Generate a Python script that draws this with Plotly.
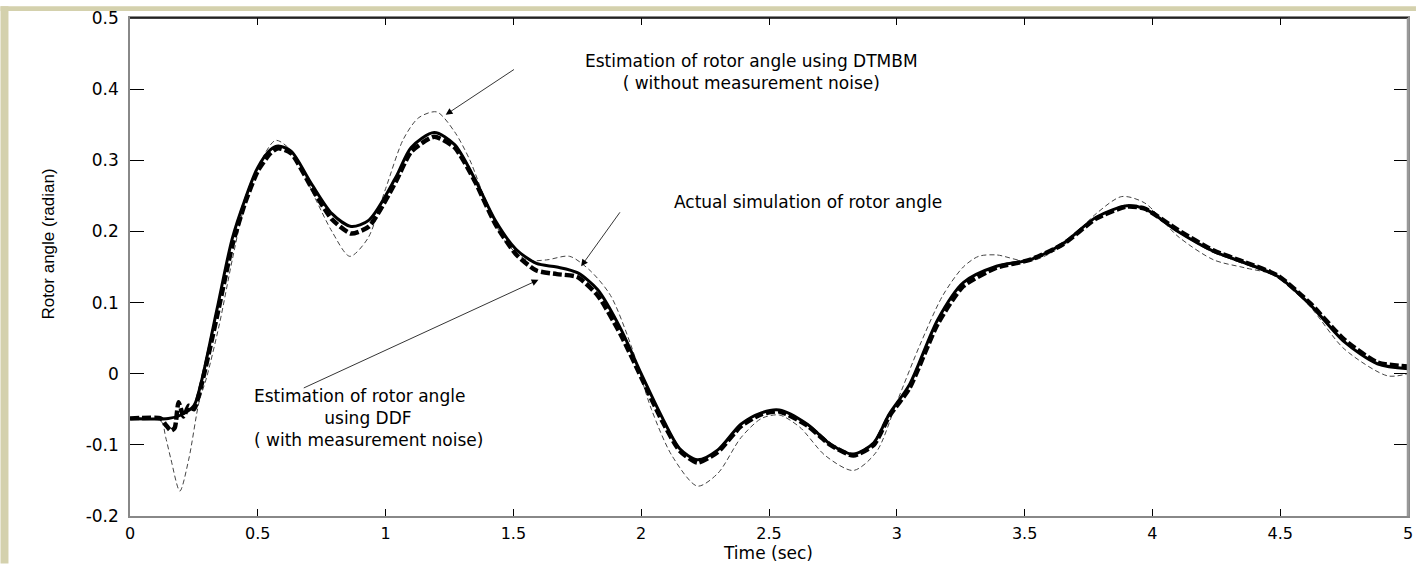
import plotly.graph_objects as go

# ---- data -------------------------------------------------------------
# actual simulated rotor angle (rad) vs time (s)
t_actual = [0, 0.15, 0.2, 0.25, 0.28, 0.34, 0.40, 0.45, 0.50, 0.55, 0.58, 0.63,
            0.71, 0.79, 0.865, 0.935, 1.04, 1.10, 1.19, 1.27, 1.35, 1.43, 1.51,
            1.59, 1.67, 1.75, 1.83, 1.92, 2.0, 2.08, 2.15, 2.22, 2.30, 2.39,
            2.47, 2.54, 2.65, 2.74, 2.83, 2.91, 2.97, 3.05, 3.16, 3.26, 3.39,
            3.52, 3.65, 3.78, 3.90, 3.97, 4.10, 4.24, 4.36, 4.49, 4.62, 4.75,
            4.88, 5.0]
v_actual = [-0.063, -0.063, -0.058, -0.045, -0.01, 0.09, 0.19, 0.245, 0.29,
            0.315, 0.32, 0.313, 0.267, 0.225, 0.207, 0.216, 0.276, 0.318, 0.339,
            0.322, 0.273, 0.215, 0.175, 0.155, 0.15, 0.142, 0.118, 0.063, 0.0,
            -0.06, -0.105, -0.121, -0.107, -0.071, -0.055, -0.051, -0.071,
            -0.099, -0.113, -0.097, -0.057, -0.015, 0.076, 0.128, 0.151, 0.16,
            0.183, 0.22, 0.236, 0.232, 0.20, 0.172, 0.156, 0.137, 0.096, 0.045,
            0.014, 0.007]

# DDF estimate (with measurement noise)
t_ddf = [0, 0.12, 0.14, 0.16, 0.175, 0.19, 0.21, 0.23, 0.25, 0.28, 0.34, 0.40,
         0.45, 0.50, 0.55, 0.58, 0.63, 0.71, 0.79, 0.865, 0.935, 1.04, 1.10,
         1.19, 1.27, 1.35, 1.43, 1.51, 1.59, 1.67, 1.75, 1.83, 1.92, 2.0, 2.08,
         2.15, 2.22, 2.30, 2.39, 2.47, 2.54, 2.65, 2.74, 2.83, 2.91, 2.97, 3.05,
         3.16, 3.26, 3.39, 3.52, 3.65, 3.78, 3.90, 3.97, 4.10, 4.24, 4.36, 4.49,
         4.62, 4.75, 4.88, 5.0]
v_ddf = [-0.063, -0.063, -0.072, -0.08, -0.076, -0.04, -0.06, -0.045, -0.05,
         -0.015, 0.08, 0.18, 0.24, 0.285, 0.31, 0.317, 0.31, 0.262, 0.217, 0.197,
         0.207, 0.27, 0.312, 0.333, 0.318, 0.27, 0.21, 0.168, 0.145, 0.14, 0.136,
         0.11, 0.055, -0.005, -0.065, -0.108, -0.125, -0.11, -0.074, -0.057,
         -0.053, -0.073, -0.1, -0.115, -0.1, -0.06, -0.02, 0.07, 0.123, 0.149,
         0.16, 0.182, 0.218, 0.235, 0.232, 0.202, 0.173, 0.157, 0.138, 0.098,
         0.048, 0.016, 0.01]

# DTMBM estimate (without measurement noise)
t_dtmbm = [0, 0.12, 0.14, 0.16, 0.195, 0.23, 0.27, 0.30, 0.35, 0.40, 0.45, 0.50,
           0.57, 0.64, 0.72, 0.79, 0.86, 0.93, 1.0, 1.07, 1.13, 1.2, 1.27, 1.33,
           1.40, 1.47, 1.55, 1.63, 1.72, 1.80, 1.88, 1.96, 2.04, 2.12, 2.22,
           2.30, 2.39, 2.47, 2.54, 2.62, 2.72, 2.83, 2.92, 3.0, 3.09, 3.18, 3.26,
           3.32, 3.39, 3.52, 3.65, 3.78, 3.88, 3.97, 4.10, 4.24, 4.36, 4.49,
           4.62, 4.75, 4.92, 5.0]
v_dtmbm = [-0.063, -0.066, -0.09, -0.12, -0.165, -0.12, -0.04, -0.005, 0.07,
           0.16, 0.24, 0.29, 0.328, 0.31, 0.25, 0.2, 0.165, 0.19, 0.26, 0.33,
           0.36, 0.368, 0.34, 0.30, 0.235, 0.185, 0.16, 0.16, 0.165, 0.145, 0.11,
           0.04, -0.05, -0.115, -0.158, -0.14, -0.09, -0.063, -0.058, -0.075,
           -0.115, -0.136, -0.11, -0.04, 0.04, 0.11, 0.15, 0.165, 0.167, 0.158,
           0.18, 0.225, 0.249, 0.24, 0.193, 0.16, 0.149, 0.137, 0.093, 0.035,
           -0.003, 0.0]

x_tickvals = [0, 0.5, 1, 1.5, 2, 2.5, 3, 3.5, 4, 4.5, 5]
x_ticktext = ["0", "0.5", "1", "1.5", "2", "2.5", "3", "3.5", "4", "4.5", "5"]
y_tickvals = [-0.2, -0.1, 0, 0.1, 0.2, 0.3, 0.4, 0.5]
y_ticktext = ["-0.2", "-0.1", "0", "0.1", "0.2", "0.3", "0.4", "0.5"]

# ---- layout geometry (pixels) -----------------------------------------
W, H = 1421, 564
L, R, T, B = 130, 8, 12, 48
PW, PH = W - L - R, H - T - B


def px_x(x):
    return (x - L) / PW


def px_y(y):
    return (H - B - y) / PH


BEIGE = "#d4d1ad"
FONT = "DejaVu Sans, Arial, sans-serif"
TXT = dict(family=FONT, size=17, color="black")

fig = go.Figure()

fig.add_trace(go.Scatter(
    x=t_dtmbm, y=v_dtmbm, mode="lines", name="DTMBM",
    line=dict(color="#444444", width=1, dash="5px,3px", shape="spline",
              smoothing=0.8)))
fig.add_trace(go.Scatter(
    x=t_ddf, y=v_ddf, mode="lines", name="DDF",
    line=dict(color="black", width=4.5, dash="9px,3px", shape="spline",
              smoothing=0.6)))
fig.add_trace(go.Scatter(
    x=t_actual, y=v_actual, mode="lines", name="Actual",
    line=dict(color="black", width=3, shape="spline", smoothing=0.8)))

# text labels
fig.add_annotation(x=2.43, y=0.424, xref="x", yref="y",
                   text="Estimation of rotor angle using DTMBM<br>"
                        "( without measurement noise)",
                   showarrow=False, font=TXT, align="center",
                   xanchor="center", yanchor="middle")
fig.add_annotation(x=2.654, y=0.242, xref="x", yref="y",
                   text="Actual simulation of rotor angle",
                   showarrow=False, font=TXT,
                   xanchor="center", yanchor="middle")
fig.add_annotation(x=px_x(252), y=-0.0625, xref="paper", yref="y",
                   text="Estimation of rotor angle<br>"
                        + "&nbsp;" * 13 + "using DDF<br>"
                        "( with measurement noise)",
                   showarrow=False, font=TXT, align="left",
                   xanchor="left", yanchor="middle")

# pointer arrows (tail -> head)
arrows = [
    ((1.508, 0.429), (1.235, 0.364)),
    ((1.921, 0.229), (1.765, 0.151)),
    ((0.674, -0.021), (1.598, 0.132)),
]
for (tx, ty), (hx, hy) in arrows:
    fig.add_annotation(x=hx, y=hy, ax=tx, ay=ty, xref="x", yref="y",
                       axref="x", ayref="y", text="", showarrow=True,
                       arrowhead=2, arrowsize=1.7, arrowwidth=0.8,
                       arrowcolor="black", standoff=0)

# axis titles
fig.add_annotation(x=px_x(770), y=px_y(553), xref="paper", yref="paper",
                   text="Time (sec)", showarrow=False,
                   font=dict(family=FONT, size=17, color="black"),
                   xanchor="center", yanchor="middle")
fig.add_annotation(x=px_x(48), y=px_y(241), xref="paper", yref="paper",
                   text="Rotor angle (radian)", showarrow=False, textangle=-90,
                   font=dict(family="Liberation Sans, Arial, sans-serif",
                             size=17, color="black"),
                   xanchor="center", yanchor="middle")

# beige frame strips on the left and top edges
fig.add_shape(type="rect", xref="paper", yref="paper",
              x0=px_x(0), x1=px_x(8), y0=px_y(H), y1=px_y(0),
              fillcolor=BEIGE, line_width=0, layer="below")
fig.add_shape(type="rect", xref="paper", yref="paper",
              x0=px_x(0), x1=px_x(W), y0=px_y(5), y1=px_y(0),
              fillcolor=BEIGE, line_width=0, layer="below")
# black top border and heavier right border
fig.add_shape(type="line", xref="paper", yref="paper", x0=0, x1=1, y0=1, y1=1,
              line=dict(color="black", width=1.5))
fig.add_shape(type="line", xref="paper", yref="paper", x0=1, x1=1, y0=0, y1=1,
              line=dict(color="#999999", width=2.5))

fig.update_layout(
    width=W, height=H,
    margin=dict(l=L, r=R, t=T, b=B, pad=0),
    paper_bgcolor="white", plot_bgcolor="white",
    showlegend=False,
    font=dict(family=FONT, size=17, color="black"),
)
fig.update_xaxes(
    range=[0, 5], tickmode="array", tickvals=x_tickvals, ticktext=x_ticktext,
    ticks="inside", ticklen=7, tickcolor="black", tickwidth=1,
    showline=True, linecolor="#888888", linewidth=1.5, mirror="ticks",
    showgrid=False, zeroline=False, tickfont=dict(size=16),
    ticklabelstandoff=2,
)
fig.update_yaxes(
    range=[-0.2, 0.5], tickmode="array", tickvals=y_tickvals,
    ticktext=y_ticktext, ticks="inside", ticklen=14, tickcolor="black",
    tickwidth=1, showline=True, linecolor="#888888", linewidth=1.5,
    mirror="ticks", showgrid=False, zeroline=False, tickfont=dict(size=17),
    ticklabelstandoff=6,
)

fig.write_html("out.html")
